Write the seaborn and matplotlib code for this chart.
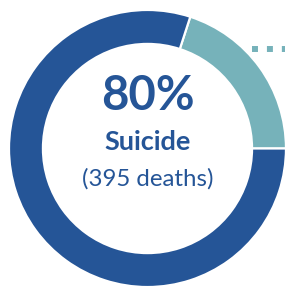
import matplotlib
matplotlib.use('Agg')
import matplotlib.pyplot as plt
import seaborn as sns

# data
labels = ['Other', 'Suicide']
shares = [20, 80]
headline = '80%'
category = 'Suicide'
deaths_note = '(395 deaths)'

sns.set_style('white')
plt.rcParams['font.family'] = ['Lato', 'DejaVu Sans']

blue = '#255597'
teal = '#76b2ba'
colors = sns.color_palette([teal, blue])

fig = plt.figure(figsize=(2.85, 2.88), dpi=100)
ax = fig.add_axes([0, 0, 1, 1])

# donut, teal slice starts at 3 o'clock going counterclockwise
ax.pie(shares, colors=colors, startangle=0, radius=1.0,
       wedgeprops=dict(width=0.245, edgecolor='white', linewidth=1.6))

# leader line toward the (cropped) label of the small slice
ax.plot([0.755, 1.2], [0.718, 0.718], color=teal, linewidth=4.3,
        dashes=(1.0, 1.5), dash_capstyle='butt', solid_capstyle='butt')

ax.text(0.0, 0.28, headline, ha='center', va='baseline', fontsize=34,
        fontweight='bold', color=blue)
ax.text(0.0, -0.011, category, ha='center', va='baseline', fontsize=19.5,
        fontweight='bold', color=blue)
ax.text(0.0, -0.27, deaths_note, ha='center', va='baseline', fontsize=17.3,
        color=blue)

ax.set_xlim(-1.065, 0.993)
ax.set_ylim(-1.007, 1.072)
ax.set_aspect('auto')
ax.axis('off')

fig.savefig('out.png', dpi=100)
